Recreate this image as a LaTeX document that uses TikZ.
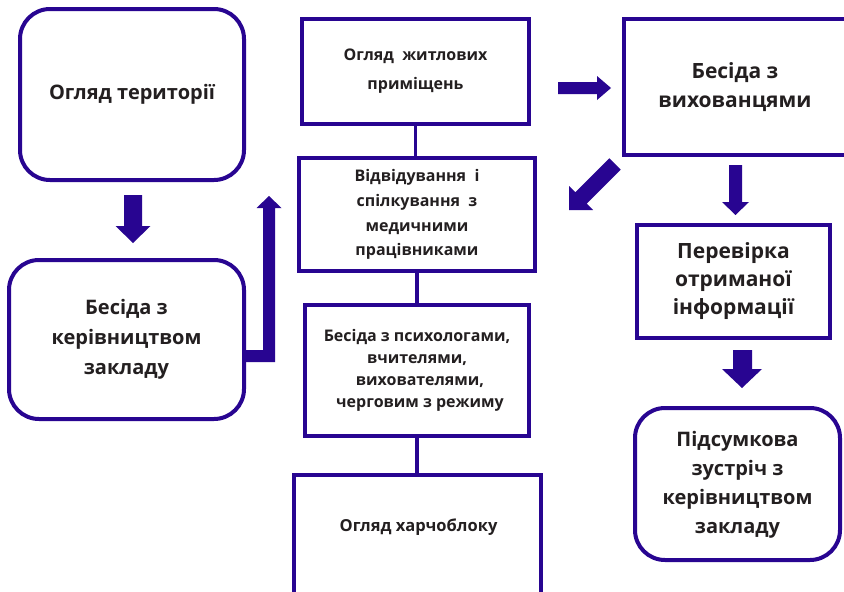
\documentclass[tikz,border=0pt]{standalone}
\usepackage{fontspec}
\setmainfont{Open Sans}
\definecolor{ind}{RGB}{40,5,145}
\definecolor{txt}{HTML}{231F20}
\tikzset{
  box/.style={draw=ind, line width=4pt, fill=white, inner sep=0pt, align=center, text=txt},
  rbox/.style={box, rounded corners=30pt},
  bigtxt/.style={font=\bfseries\fontsize{20}{30}\selectfont},
  smalltxt/.style={font=\bfseries\fontsize{16}{24.7}\selectfont},
  link/.style={draw=ind, line width=3.5pt},
  blk/.style={fill=ind, draw=none}
}
\begin{document}
\begin{tikzpicture}[x=1pt,y=-1pt]
\useasboundingbox (0,0) rectangle (844,592);
\clip (0,0) rectangle (844,592);
\fill[white] (0,0) rectangle (844,592);

% left column
\node[rbox, bigtxt, minimum width=224pt, minimum height=171pt] (b1) at (132,94.5) {\raisebox{3pt}{Огляд території}};
\node[rbox, bigtxt, minimum width=235pt, minimum height=159pt] (b2) at (126.5,339.5) {Бесіда з\\керівництвом\\закладу};

% middle column
\node[box, font=\bfseries\fontsize{16}{29}\selectfont, minimum width=227pt, minimum height=105pt] (b3) at (415.5,71.5) {Огляд\ \ житлових\\приміщень};
\node[box, smalltxt, minimum width=236pt, minimum height=113pt] (b4) at (417,214.5) {Відвідування\ \ і\\спілкування\ \ з\\медичними\\працівниками};
\node[box, font=\bfseries\fontsize{16}{22}\selectfont, minimum width=224pt, minimum height=131pt] (b5) at (417,370.5) {Бесіда з психологами,\\вчителями,\hspace*{18pt}\\\hspace*{6pt}вихователями,\\\hspace*{6pt}черговим з режиму};
\node[box, minimum width=247pt, minimum height=145pt] (b6) at (417.5,547.5) {};
\node[text=txt, font=\bfseries\fontsize{16.5}{22}\selectfont, inner sep=0pt] (b6t) at (418.5,527) {Огляд харчоблоку};

% right column
\node[box, font=\bfseries\fontsize{21}{29}\selectfont, minimum width=222pt, minimum height=136pt] (b7) at (735,87) {Бесіда з\\вихованцями};
\node[box, font=\bfseries\fontsize{21}{28}\selectfont, minimum width=193pt, minimum height=113pt] (b8) at (733.5,281.5) {Перевірка\\отриманої\\інформації};
\node[rbox, bigtxt, minimum width=205pt, minimum height=152pt] (b9) at (737.5,484) {\raisebox{3pt}{\begin{tabular}{@{}c@{}}Підсумкова\\[-1pt]зустріч з\\[-1pt]керівництвом\\[-1pt]закладу\end{tabular}}};

% thin connectors
\draw[link] (b3.south) -- (b3.south |- b4.north);
\draw[link] (b4.south) -- (b4.south |- b5.north);
\draw[link] (b5.south) -- (b5.south |- b6.north);

% block arrows
\fill[blk] (124,195) -- (142,195) -- (142,226) -- (150.5,226) -- (133,243) -- (115.5,226) -- (124,226) -- cycle;
\fill[blk] (244,350) -- (263,350) -- (263,208) -- (256.5,208) -- (269,196) -- (281.5,208) -- (275,208) -- (275,362) -- (244,362) -- cycle;
\fill[blk] (558,82) -- (597,82) -- (597,76) -- (611,88) -- (597,100) -- (597,94) -- (558,94) -- cycle;
\fill[blk] (609.3,158.3) -- (575.3,192.3) -- (569,186) -- (569,210) -- (593,210) -- (586.7,203.7) -- (620.7,169.7) -- cycle;
\fill[blk] (729,165) -- (742,165) -- (742,202) -- (749,202) -- (735.5,215) -- (722,202) -- (729,202) -- cycle;
\fill[blk] (733,350) -- (752,350) -- (752,369) -- (762,369) -- (742,388) -- (722,369) -- (733,369) -- cycle;
\end{tikzpicture}
\end{document}
